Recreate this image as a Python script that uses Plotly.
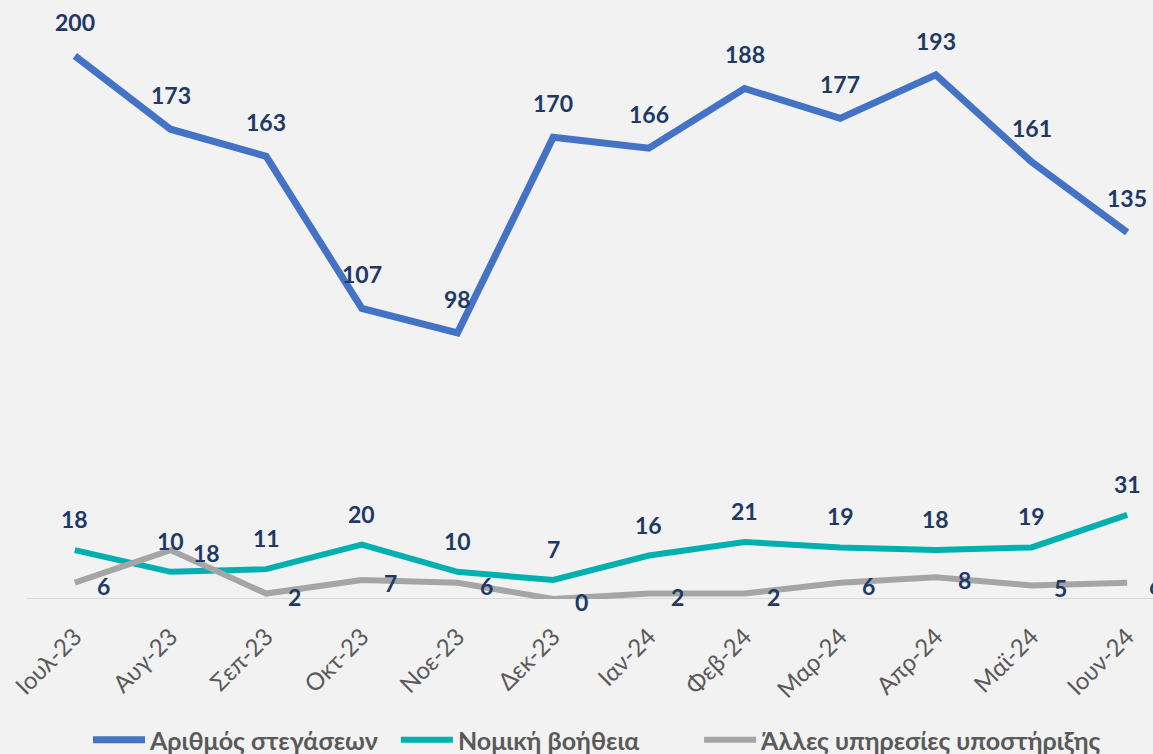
import plotly.graph_objects as go

months = ["Ιουλ-23", "Αυγ-23", "Σεπ-23", "Οκτ-23", "Νοε-23", "Δεκ-23",
          "Ιαν-24", "Φεβ-24", "Μαρ-24", "Απρ-24", "Μαϊ-24", "Ιουν-24"]
housing = [200, 173, 163, 107, 98, 170, 166, 188, 177, 193, 161, 135]
legal = [18, 10, 11, 20, 10, 7, 16, 21, 19, 18, 19, 31]
other = [6, 18, 2, 7, 6, 0, 2, 2, 6, 8, 5, 6]

names = ["Αριθμός στεγάσεων", "Νομική βοήθεια", "Άλλες υπηρεσίες υποστήριξης"]
pads = [2, 9, 0]  # trailing spacing in legend entries
colors = ["#4472C4", "#00B0B0", "#A5A5A5"]
widths = [7, 6, 6]
label_color = "#203864"
FONT = "Lato, 'Open Sans', sans-serif"

fig = go.Figure()
for name, pad, vals, col, w in zip(names, pads, [housing, legal, other], colors, widths):
    fig.add_trace(go.Scatter(x=months, y=vals, mode="lines",
                             name="<b>" + name + "</b>" + "&nbsp;" * pad,
                             line=dict(color=col, width=w),
                             cliponaxis=False, hoverinfo="skip"))

annotations = []
for vals, shift in [(housing, 34), (legal, 31)]:
    for m, v in zip(months, vals):
        annotations.append(dict(x=m, y=v, text=str(v), showarrow=False,
                                yshift=shift, xanchor="center", yanchor="middle",
                                font=dict(family=FONT, size=23, color=label_color, weight="bold")))
for m, v in zip(months, other):
    annotations.append(dict(x=m, y=v, text=str(v), showarrow=False,
                            xshift=20, yshift=-3, xanchor="left", yanchor="middle",
                            font=dict(family=FONT, size=23, color=label_color, weight="bold")))

fig.update_layout(
    width=1153, height=754,
    margin=dict(l=27, r=0, t=10, b=155, autoexpand=False),
    paper_bgcolor="#F2F2F2", plot_bgcolor="#F2F2F2",
    annotations=annotations,
    showlegend=True,
    legend=dict(orientation="h", x=88 / 1153, y=14 / 754, xref="container", yref="container",
                xanchor="left", yanchor="middle",
                font=dict(family=FONT, size=25, color="#595959", weight="bold"),
                bgcolor="rgba(0,0,0,0)", itemwidth=52),
    xaxis=dict(range=[-0.5, 11.27], showgrid=False, zeroline=False, automargin=False,
               showline=False, ticks="", tickangle=-45, ticklabelstandoff=18,
               tickfont=dict(family=FONT, size=24, color="#595959")),
    yaxis=dict(range=[0, 216.9], showgrid=False, zeroline=False, showline=False,
               automargin=False, showticklabels=False, fixedrange=True),
    shapes=[dict(type="line", xref="paper", yref="y", x0=0, x1=1, y0=0, y1=0,
                 line=dict(color="#D9D9D9", width=2), layer="below")],
)

fig.write_html("out.html", config={"displayModeBar": False},
               post_script="document.body.style.margin='0';document.body.style.overflow='hidden';")
